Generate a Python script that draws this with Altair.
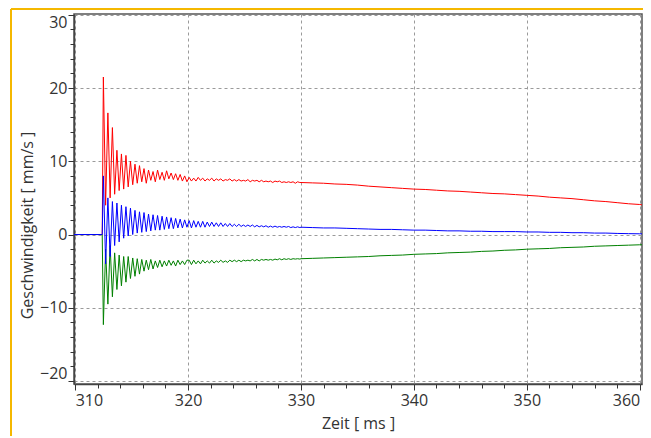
import altair as alt
import pandas as pd

# ---- data (time in ms, velocity in mm/s) ----
# quiet phase before the impact
t_pre = [309.9, 312.4]
red_pre = [0.0, 0.0]
blue_pre = [0.0, 0.0]
green_pre = [0.0, 0.0]

# burst phase, sampled every 0.2 ms from 312.5 ms to 329.9 ms
dense_start = 312.5
dense_step = 0.2
red_dense = [
    21.5, 4.0, 16.6, 5.0, 14.6, 5.5, 11.5, 6.0, 11.0, 6.2,
    10.8, 6.5, 10.0, 6.8, 9.6, 7.0, 9.4, 7.2, 9.0, 7.0,
    8.8, 7.4, 8.6, 7.2, 8.8, 7.5, 8.5, 7.4, 8.7, 7.6,
    8.4, 7.5, 8.3, 7.4, 8.2, 7.3, 8.0, 7.2,
    7.8, 7.3, 7.7, 7.3, 7.8, 7.4, 7.7, 7.3, 7.6, 7.4,
    7.7, 7.3, 7.6, 7.4, 7.6, 7.3, 7.5, 7.4, 7.6, 7.3,
    7.5, 7.3, 7.5, 7.3, 7.4, 7.3, 7.5, 7.2, 7.4, 7.3,
    7.4, 7.2, 7.4, 7.2, 7.3, 7.2, 7.3, 7.1, 7.3, 7.2,
    7.3, 7.1, 7.2, 7.1, 7.2, 7.1, 7.2, 7.0, 7.2, 7.1,
]
blue_dense = [
    8.0, -4.0, 5.0, -3.0, 4.5, -1.5, 4.3, -1.0, 4.0, -0.5,
    3.8, -0.2, 3.6, 0.0, 3.3, 0.2, 3.1, 0.3, 3.0, 0.4,
    2.8, 0.5, 2.7, 0.6, 2.6, 0.6, 2.5, 0.7, 2.4, 0.8,
    2.3, 0.8, 2.2, 0.9, 2.1, 0.9, 2.0, 1.0,
    1.9, 0.9, 1.9, 1.0, 1.8, 1.0, 1.8, 1.0, 1.7, 1.1,
    1.7, 1.1, 1.6, 1.1, 1.6, 1.1, 1.5, 1.1, 1.5, 1.1,
    1.4, 1.1, 1.4, 1.1, 1.3, 1.1, 1.3, 1.1, 1.3, 1.05,
    1.25, 1.05, 1.2, 1.05, 1.2, 1.0, 1.15, 1.0, 1.15, 1.0,
    1.1, 1.0, 1.1, 1.0, 1.1, 0.95, 1.05, 0.95, 1.05, 0.95,
]
green_dense = [
    -12.3, -2.0, -9.5, -1.5, -8.5, -2.5, -7.5, -2.8, -7.0, -3.0,
    -6.5, -3.0, -6.0, -3.2, -5.7, -3.3, -5.4, -3.4, -5.0, -3.5,
    -4.8, -3.4, -4.7, -3.6, -4.5, -3.5, -4.4, -3.6, -4.3, -3.5,
    -4.2, -3.6, -4.3, -3.5, -4.1, -3.6, -4.1, -3.5,
    -3.5, -4.1, -3.5, -4.0, -3.6, -4.0, -3.5, -3.9, -3.6, -3.9,
    -3.5, -3.9, -3.6, -3.8, -3.5, -3.8, -3.6, -3.8, -3.5, -3.7,
    -3.5, -3.7, -3.5, -3.7, -3.5, -3.6, -3.5, -3.6, -3.4, -3.6,
    -3.4, -3.6, -3.4, -3.5, -3.4, -3.5, -3.4, -3.5, -3.35, -3.45,
    -3.3, -3.45, -3.3, -3.4, -3.3, -3.4, -3.3, -3.35, -3.3, -3.35,
]

# slow decay phase
t_slow = [330, 331, 332, 333, 334, 335, 336, 337, 338, 339, 340, 341, 342,
          343, 344, 345, 346, 347, 348, 349, 350, 351, 352, 353, 354, 355,
          356, 357, 358, 359, 360, 360.2]
red_slow = [7.1, 7.05, 7.0, 6.9, 6.85, 6.75, 6.6, 6.5, 6.4, 6.3, 6.2, 6.15,
            6.05, 5.95, 5.9, 5.8, 5.7, 5.6, 5.55, 5.45, 5.35, 5.25, 5.1, 5.0,
            4.9, 4.75, 4.6, 4.5, 4.35, 4.2, 4.1, 4.05]
blue_slow = [1.0, 0.95, 0.9, 0.9, 0.85, 0.8, 0.75, 0.7, 0.7, 0.65, 0.6, 0.6,
             0.55, 0.5, 0.5, 0.45, 0.45, 0.4, 0.4, 0.4, 0.35, 0.35, 0.3, 0.3,
             0.25, 0.25, 0.2, 0.2, 0.15, 0.12, 0.1, 0.1]
green_slow = [-3.3, -3.25, -3.2, -3.15, -3.1, -3.05, -3.0, -2.9, -2.85, -2.8,
              -2.7, -2.65, -2.6, -2.5, -2.45, -2.4, -2.3, -2.25, -2.15, -2.1,
              -2.0, -1.95, -1.9, -1.8, -1.75, -1.7, -1.6, -1.55, -1.5, -1.45,
              -1.4, -1.4]

x_major = [310, 320, 330, 340, 350, 360]
x_minor = [312, 314, 316, 318, 322, 324, 326, 328, 332, 334, 336, 338,
           342, 344, 346, 348, 352, 354, 356, 358]
y_major = [-20, -10, 0, 10, 20, 30]
y_minor = [-18, -16, -14, -12, -8, -6, -4, -2, 2, 4, 6, 8, 12, 14, 16, 18,
           22, 24, 26, 28]

# ---- build table ----
t_dense = [round(dense_start + dense_step * i, 2) for i in range(len(red_dense))]
t_all = t_pre + t_dense + t_slow
rows = []
for name, pre, dense, slow in [("rot", red_pre, red_dense, red_slow),
                               ("gruen", green_pre, green_dense, green_slow),
                               ("blau", blue_pre, blue_dense, blue_slow)]:
    vals = pre + dense + slow
    for i, (t, v) in enumerate(zip(t_all, vals)):
        rows.append({"t": t, "v": v, "s": name, "i": i})
df = pd.DataFrame(rows)

FONT = "Open Sans"
xs = alt.Scale(domain=[309.9, 360.2], nice=False, zero=False)
ys = alt.Scale(domain=[-20.4, 30.1], nice=False, zero=False)

x_axis = alt.Axis(values=x_major, title="Zeit [ ms ]", grid=True, gridDash=[3, 3],
                  gridColor="#9a9a9a", gridWidth=1, tickSize=6, tickColor="#333",
                  domainColor="#444", domainWidth=1.5, labelFontSize=16,
                  labelFont=FONT, labelColor="#333", labelPadding=2,
                  labelFlush=6,
                  titleFont=FONT, titleFontSize=16, titleFontWeight="normal",
                  titleColor="#333", titlePadding=7)
y_axis = alt.Axis(values=y_major, title="Geschwindigkeit [ mm/s ]", grid=True,
                  gridDash=[3, 3], gridColor="#9a9a9a", gridWidth=1, tickSize=6,
                  tickColor="#333", domainColor="#444", domainWidth=1.5,
                  labelFontSize=16, labelFont=FONT, labelColor="#333",
                  labelPadding=1, labelFlush=6,
                  titleFont=FONT, titleFontSize=16,
                  titleFontWeight="normal", titleColor="#333",
                  titleX=-47, titleY=211, titleBaseline="middle")

colors = {"rot": "#ff0000", "gruen": "#008000", "blau": "#0000ff"}
layers = []
for k, name in enumerate(["rot", "gruen", "blau"]):
    enc_x = alt.X("t:Q", scale=xs, axis=x_axis if k == 0 else None)
    enc_y = alt.Y("v:Q", scale=ys, axis=y_axis if k == 0 else None)
    layers.append(
        alt.Chart(df).transform_filter(alt.datum.s == name)
        .mark_line(color=colors[name], strokeWidth=1, clip=True)
        .encode(x=enc_x, y=enc_y, order="i:Q")
    )

# minor ticks on both axes
minor = alt.Chart(df).mark_point(opacity=0).encode(
    x=alt.X("t:Q", scale=xs, axis=alt.Axis(values=x_minor, orient="bottom",
            labels=False, title=None, grid=False, domain=False, tickSize=4,
            tickColor="#333")),
    y=alt.Y("v:Q", scale=ys, axis=alt.Axis(values=y_minor, orient="left",
            labels=False, title=None, grid=False, domain=False, tickSize=4,
            tickColor="#333")),
)

# orange frame of the screenshot
frame_top = alt.Chart(df).mark_rule(color="#f5b800", strokeWidth=2).encode(
    x=alt.value(-63), x2=alt.value(572), y=alt.value(-5))
frame_left = alt.Chart(df).mark_rule(color="#f5b800", strokeWidth=2).encode(
    x=alt.value(-63), y=alt.value(-5), y2=alt.value(430))

chart = alt.layer(*layers, minor, frame_top, frame_left).resolve_axis(
    x="independent", y="independent"
).properties(
    width=568, height=370,
    autosize=alt.AutoSizeParams(type="none"),
    padding={"left": 66, "top": 6, "right": 1, "bottom": 52},
    background="white",
).configure_view(stroke="#555", strokeWidth=1.5)

chart.save("out.html", embed_options={"renderer": "svg", "actions": False})
